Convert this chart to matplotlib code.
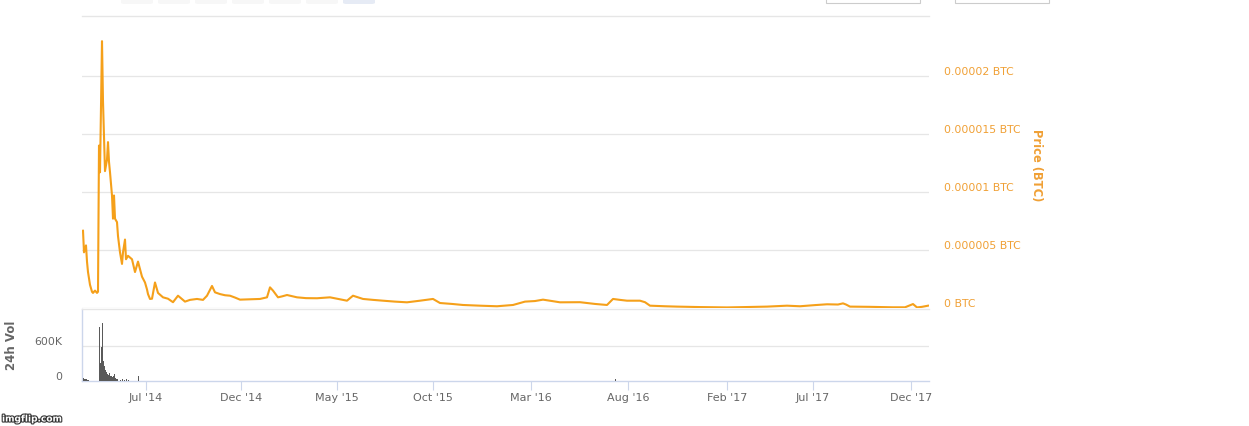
import matplotlib
matplotlib.use('Agg')
import matplotlib.pyplot as plt
import matplotlib.patheffects as pe
from matplotlib.patches import Rectangle, FancyBboxPatch
from matplotlib.transforms import ScaledTranslation, blended_transform_factory

# ---------------- data (ordinal point index on x) ----------------
price_idx = [1, 2, 4, 5, 6, 8, 10, 11, 13, 15, 16, 17, 18, 20, 21, 23, 25, 26, 27, 28,
             30, 31, 32, 33, 35, 36, 38, 40, 41, 43, 44, 46, 50, 53, 56, 60, 63, 65, 66,
             68, 70, 73, 76, 81, 86, 91, 96, 103, 108, 115, 121, 125, 130, 133, 138, 143,
             148, 153, 158, 168, 178, 185, 188, 191, 196, 200, 205, 215, 224, 235, 248,
             258, 265, 271, 281, 291, 301, 313, 325, 338, 351, 358, 370, 381, 398, 415,
             431, 443, 453, 461, 470, 478, 498, 513, 525, 531, 538, 545, 558, 563, 568,
             583, 595, 618, 645, 663, 685, 705, 718, 733, 745, 756, 761, 764, 768, 788,
             811, 823, 831, 835, 840, 846]
price_ubtc = [6.66, 4.8, 5.4, 4.0, 3.1, 2.0, 1.4, 1.3, 1.5, 1.3, 1.4, 14.0, 11.7, 23.0,
              17.8, 11.8, 12.8, 14.3, 12.6, 11.7, 9.7, 7.7, 9.7, 7.7, 7.4, 6.2, 4.8, 3.8,
              4.8, 5.9, 4.2, 4.5, 4.2, 3.1, 4.0, 2.7, 2.2, 1.6, 1.2, 0.78, 0.8, 2.2, 1.3,
              0.92, 0.8, 0.5, 1.06, 0.55, 0.7, 0.78, 0.7, 1.06, 1.9, 1.35, 1.2, 1.1, 1.06,
              0.9, 0.72, 0.75, 0.78, 0.92, 1.78, 1.5, 0.92, 1.0, 1.12, 0.92, 0.85, 0.84,
              0.92, 0.75, 0.63, 1.06, 0.78, 0.7, 0.63, 0.55, 0.49, 0.63, 0.78, 0.43, 0.35,
              0.26, 0.2, 0.15, 0.26, 0.55, 0.6, 0.72, 0.6, 0.49, 0.5, 0.35, 0.26, 0.78,
              0.7, 0.63, 0.63, 0.5, 0.2, 0.15, 0.12, 0.08, 0.05, 0.08, 0.12, 0.2, 0.15,
              0.25, 0.32, 0.3, 0.4, 0.3, 0.12, 0.1, 0.06, 0.06, 0.34, 0.05, 0.1, 0.2]

vol_idx = [1, 2, 3, 4, 5, 6, 17, 18, 19, 20, 21, 22, 23, 24, 25, 26, 27, 28, 29, 30,
           31, 32, 33, 34, 35, 38, 40, 42, 44, 46, 56, 533]
vol_k = [50, 40, 30, 40, 25, 20, 925, 300, 580, 1000, 350, 250, 180, 160, 120, 100, 130,
         90, 80, 70, 90, 125, 50, 40, 30, 25, 35, 20, 40, 25, 85, 40]

x_tick_idx = [64, 159, 255, 351, 449, 546, 645, 731, 829]
x_tick_labels = ["Jul '14", "Dec '14", "May '15", "Oct '15", "Mar '16", "Aug '16",
                 "Feb '17", "Jul '17", "Dec '17"]
price_ticks_ubtc = [0, 5, 10, 15, 20]
price_tick_labels = ["0 BTC", "0.000005 BTC", "0.00001 BTC", "0.000015 BTC", "0.00002 BTC"]
vol_ticks_k = [0, 600]
vol_tick_labels = ["0", "600K"]

# ---------------- styling ----------------
W, H = 1249, 427
LINE = '#f5a01a'
LABEL_ORANGE = '#f0a035'
GRID = '#e6e6e6'
AXIS = '#ccd6eb'
TXT = '#666666'

plt.rcParams['font.family'] = ['DejaVu Sans']
fig = plt.figure(figsize=(W / 100, H / 100), dpi=100)
fig.patch.set_facecolor('white')


def rect_px(x0, y0, x1, y1):
    return [x0 / W, 1 - y1 / H, (x1 - x0) / W, (y1 - y0) / H]


axp = fig.add_axes(rect_px(82, 17, 929, 309))
axv = fig.add_axes(rect_px(82, 310, 929, 382))

# price panel
axp.plot(price_idx, [v * 1e-6 for v in price_ubtc], color=LINE, lw=1.5,
         solid_joinstyle='round', zorder=3)
axp.set_xlim(0, 847)
axp.set_ylim(0, 25.17e-6)
for s in ['left', 'right', 'bottom']:
    axp.spines[s].set_visible(False)
axp.spines['top'].set_color(GRID)
axp.spines['top'].set_linewidth(1.0)
axp.set_xticks([])
axp.set_yticks([])
for t in price_ticks_ubtc:
    axp.axhline(t * 1e-6, color=GRID, lw=0.9, zorder=1)
tr_right = blended_transform_factory(axp.transAxes, axp.transData) + \
    ScaledTranslation(15 / 100, 5 / 100, fig.dpi_scale_trans)
for t, lab in zip(price_ticks_ubtc, price_tick_labels):
    axp.text(1.0, t * 1e-6, lab, transform=tr_right, ha='left', va='center',
             color=LABEL_ORANGE, fontsize=7.8, clip_on=False)
fig.text(1037 / W, 1 - 165 / H, 'Price (BTC)', rotation=270, ha='center', va='center',
         color=LABEL_ORANGE, fontsize=8.3, fontweight='bold')

# volume panel
axv.bar(vol_idx, vol_k, width=1.0, color='#5a5a5a', linewidth=0, zorder=3)
axv.set_xlim(0, 847)
axv.set_ylim(0, 1234)
axv.spines['right'].set_visible(False)
axv.spines['top'].set_color(GRID)
axv.spines['left'].set_color(AXIS)
axv.spines['bottom'].set_color(AXIS)
for s in ['top', 'left', 'bottom']:
    axv.spines[s].set_linewidth(1.0)
for t in vol_ticks_k[1:]:
    axv.axhline(t, color=GRID, lw=0.9, zorder=1)
axv.set_yticks([])
axv.set_xticks(x_tick_idx)
axv.set_xticklabels(x_tick_labels)
axv.tick_params(axis='x', length=6.5, width=0.8, color=AXIS, labelcolor=TXT,
                labelsize=8, pad=1.5)
tr_left = blended_transform_factory(axv.transAxes, axv.transData) + \
    ScaledTranslation(-20 / 100, 5 / 100, fig.dpi_scale_trans)
for t, lab in zip(vol_ticks_k, vol_tick_labels):
    axv.text(0.0, t, lab, transform=tr_left, ha='right', va='center', color=TXT,
             fontsize=7.8, clip_on=False)
fig.text(12 / W, 1 - 345 / H, '24h Vol', rotation=90, ha='center', va='center',
         color=TXT, fontsize=8.5, fontweight='bold')

# top UI remnants (range buttons and date inputs)
btn_x = [121, 158, 195, 232, 269, 306, 343]
for i, bx in enumerate(btn_x):
    fc = '#e6ebf5' if i == len(btn_x) - 1 else '#f7f7f7'
    fig.add_artist(FancyBboxPatch((bx / W, 1 - 5 / H), 32 / W, 8 / H,
                                  boxstyle='round,pad=0,rounding_size=0.003',
                                  transform=fig.transFigure, facecolor=fc,
                                  edgecolor='none'))
for bx in [826, 955]:
    fig.add_artist(Rectangle((bx / W, 1 - 4.3 / H), 94 / W, 8 / H,
                             transform=fig.transFigure, facecolor='white',
                             edgecolor='#cccccc', linewidth=0.8))

# watermark
fig.text(2 / W, 1 - 420 / H, 'imgflip.com', ha='left', va='center', color='white',
         fontsize=6.5, fontweight='bold',
         path_effects=[pe.Stroke(linewidth=1.6, foreground='#333333'), pe.Normal()])

fig.savefig('out.png', dpi=100, facecolor='white')
